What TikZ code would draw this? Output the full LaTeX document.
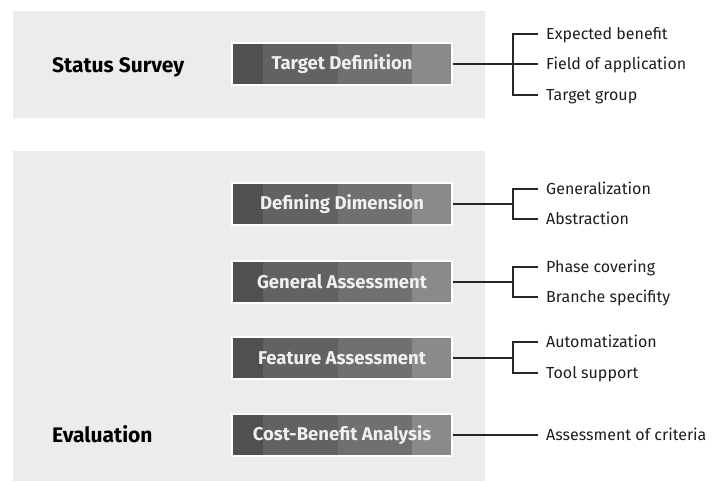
\documentclass[tikz,border=0pt]{standalone}
\usepackage{fontspec}
\setmainfont{Fira Sans}
\usepackage{tikz}
\usetikzlibrary{positioning, calc}
\usepackage{xcolor}
\definecolor{panelgray}{RGB}{236,236,236}
\definecolor{bandA}{RGB}{80,80,80}
\definecolor{bandB}{RGB}{98,98,98}
\definecolor{bandC}{RGB}{112,112,112}
\definecolor{bandD}{RGB}{138,138,138}
\definecolor{ink}{RGB}{30,30,30}

\begin{document}
\begin{tikzpicture}[x=1pt, y=-1pt,
  panel/.style={fill=panelgray},
  stage/.style={minimum width=220pt, minimum height=42pt, inner sep=0pt,
    draw=white, line width=1.5pt, text=white!94!black,
    font=\bfseries\fontsize{18.5}{20}\selectfont,
    path picture={
      \foreach \from/\to/\col in {0/31/bandA, 31/106/bandB, 106/180/bandC, 180/222/bandD}
        \fill[\col] ([xshift=\from pt]path picture bounding box.north west)
          rectangle ([xshift=\to pt]path picture bounding box.south west);
    }},
  phase/.style={anchor=west, inner sep=0pt, text height=14pt, text depth=0pt,
    font=\bfseries\fontsize{21}{24}\selectfont, text=black},
  item/.style={anchor=west, inner sep=0pt, text height=11pt, text depth=0pt,
    font=\fontsize{16}{18}\selectfont, text=ink},
  link/.style={draw=black!85, line width=1.1pt}]
  \useasboundingbox (0,0) rectangle (712,482);

  % grey backgrounds of the two phases
  \fill[panel] (13,11) rectangle (485,118);
  \fill[panel] (13,151) rectangle (485,481);

  \node[phase] (survey) at (52,65) {Status Survey};
  \node[phase] (evaluation) at (52,435) {Evaluation};

  % steps
  \node[stage] (target) at (342,64) {Target Definition};
  \node[stage] (dimension) at (342,204) {Defining Dimension};
  \node[stage] (general) at (342,282) {General Assessment};
  \node[stage] (feature) at (342,358) {Feature Assessment};
  \node[stage] (costben) at (342,435) {Cost-Benefit Analysis};

  % criteria
  \node[item] (benefit) at (546,34) {Expected benefit};
  \node[item] (field) at (546,64) {Field of application};
  \node[item] (group) at (546,95) {Target group};
  \node[item] (gen) at (546,189) {Generalization};
  \node[item] (abs) at (546,219) {Abstraction};
  \node[item] (phasecov) at (546,267) {Phase covering};
  \node[item] (branche) at (546,297) {Branche specifity};
  \node[item] (auto) at (546,342) {Automatization};
  \node[item] (tool) at (546,373) {Tool support};
  \node[item] (criteria) at (546,435) {Assessment of criteria};

  \coordinate (spine) at (513,0);

  % brackets
  \draw[link] (target.east) -- ([xshift=-8pt]field.west);
  \draw[link] ([xshift=-8pt]benefit.west) -- (spine |- benefit.west) |- ([xshift=-8pt]group.west);
  \foreach \stg/\a/\b in {dimension/gen/abs, general/phasecov/branche, feature/auto/tool} {
    \draw[link] (\stg.east) -- (spine |- \stg.east);
    \draw[link] ([xshift=-8pt]\a.west) -- (spine |- \a.west) |- ([xshift=-8pt]\b.west);
  }
  \draw[link] (costben.east) -- ([xshift=-8pt]criteria.west);
\end{tikzpicture}
\end{document}
